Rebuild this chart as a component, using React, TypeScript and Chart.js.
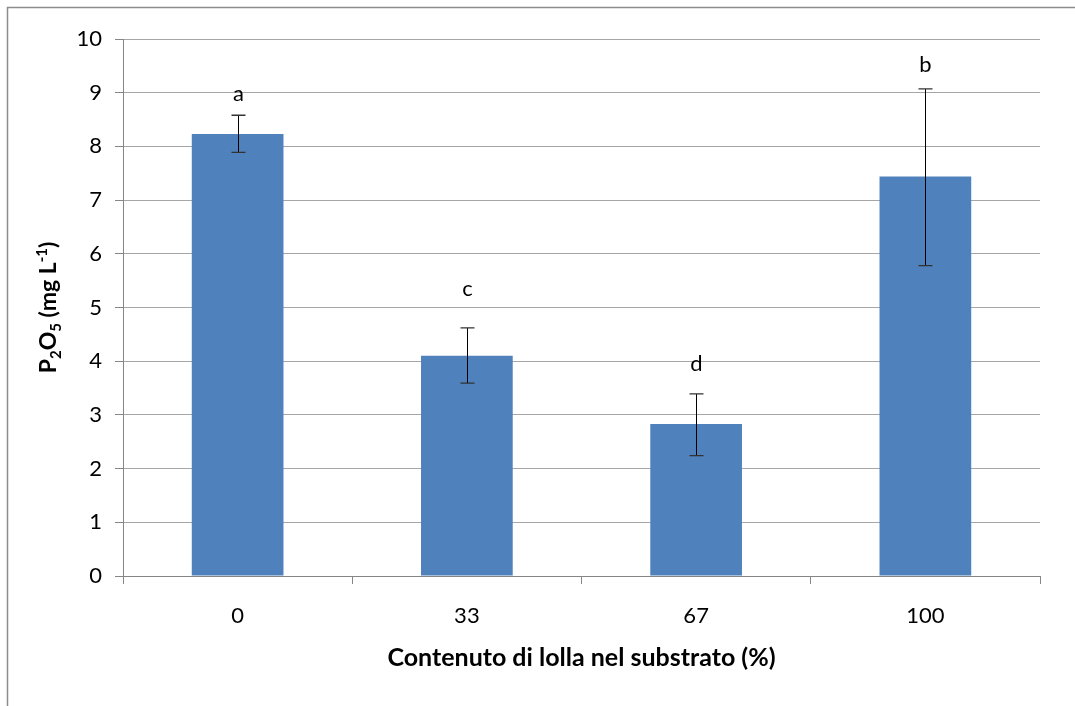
import React, { useEffect, useRef } from "react";
import { Chart, registerables } from "chart.js";

Chart.register(...registerables);

// Rice-hull content of the substrate (%) and available P2O5 (mg/L)
const categories = ["0", "33", "67", "100"];
const meanValues = [8.23, 4.1, 2.83, 7.44];
const errorLow = [7.89, 3.59, 2.24, 5.78];
const errorHigh = [8.58, 4.62, 3.39, 9.07];
// Significance letters and the value at which each letter's baseline sits
const groupLetters = ["a", "c", "d", "b"];
const letterBaseline = [8.85, 5.21, 3.82, 9.39];
const yTicks = [0, 1, 2, 3, 4, 5, 6, 7, 8, 9, 10];

const FONT = "Lato, 'Open Sans', sans-serif";
const BAR_COLOR = "#4F81BD";
const GRID_COLOR = "#A6A6A6";
const AXIS_COLOR = "#868686";

const framePlugin = {
  id: "frame",
  beforeDraw(chart: any) {
    const { ctx } = chart;
    ctx.save();
    ctx.fillStyle = "#ffffff";
    ctx.fillRect(0, 0, chart.width, chart.height);
    ctx.strokeStyle = "#8C8C8C";
    ctx.lineWidth = 1.5;
    ctx.beginPath();
    ctx.moveTo(7.5, chart.height);
    ctx.lineTo(7.5, 7.5);
    ctx.lineTo(chart.width, 7.5);
    ctx.stroke();
    ctx.restore();
  },
};

const errorBarPlugin = {
  id: "errorBars",
  afterDatasetsDraw(chart: any) {
    const { ctx } = chart;
    const x = chart.scales.x;
    const y = chart.scales.y;
    ctx.save();
    categories.forEach((_, i) => {
      const cx = Math.round(x.getPixelForValue(i)) + 0.5;
      const yTop = y.getPixelForValue(errorHigh[i]);
      const yBot = y.getPixelForValue(errorLow[i]);
      ctx.strokeStyle = "#000000";
      ctx.lineWidth = 1;
      ctx.beginPath();
      ctx.moveTo(cx, yTop);
      ctx.lineTo(cx, yBot);
      ctx.stroke();
      ctx.strokeStyle = "#333333";
      ctx.lineWidth = 1.3;
      ctx.beginPath();
      ctx.moveTo(cx - 7, yTop);
      ctx.lineTo(cx + 7, yTop);
      ctx.moveTo(cx - 7, yBot);
      ctx.lineTo(cx + 7, yBot);
      ctx.stroke();

      ctx.fillStyle = "#000000";
      ctx.font = `22px ${FONT}`;
      ctx.textAlign = "center";
      ctx.textBaseline = "alphabetic";
      ctx.fillText(groupLetters[i], cx, y.getPixelForValue(letterBaseline[i]));
    });
    ctx.restore();
  },
};

// Rotated y-axis title with sub/superscripts: P2O5 (mg L-1)
const yTitlePlugin = {
  id: "yTitle",
  afterDraw(chart: any) {
    const { ctx, chartArea } = chart;
    const parts: { t: string; size: number; dy: number }[] = [
      { t: "P", size: 23, dy: 0 },
      { t: "2", size: 15, dy: 5 },
      { t: "O", size: 23, dy: 0 },
      { t: "5", size: 15, dy: 5 },
      { t: " (mg L", size: 23, dy: 0 },
      { t: "-1", size: 15, dy: -9 },
      { t: ")", size: 23, dy: 0 },
    ];
    ctx.save();
    let total = 0;
    const widths = parts.map((p) => {
      ctx.font = `bold ${p.size}px ${FONT}`;
      const w = ctx.measureText(p.t).width;
      total += w;
      return w;
    });
    const cy = (chartArea.top + chartArea.bottom) / 2;
    ctx.translate(56, cy);
    ctx.rotate(-Math.PI / 2);
    ctx.fillStyle = "#000000";
    ctx.textAlign = "left";
    ctx.textBaseline = "alphabetic";
    let px = -total / 2;
    parts.forEach((p, i) => {
      ctx.font = `bold ${p.size}px ${FONT}`;
      ctx.fillText(p.t, px, p.dy);
      px += widths[i];
    });
    ctx.restore();
  },
};

export default function App() {
  const canvasRef = useRef<HTMLCanvasElement | null>(null);

  useEffect(() => {
    document.body.style.margin = "0";
    const canvas = canvasRef.current;
    if (!canvas) return;
    const chart = new Chart(canvas, {
      type: "bar",
      data: {
        labels: categories,
        datasets: [
          {
            data: meanValues,
            backgroundColor: BAR_COLOR,
            borderWidth: 0,
            categoryPercentage: 1,
            barPercentage: 0.4,
          },
        ],
      },
      options: {
        animation: false,
        responsive: false,
        devicePixelRatio: 1,
        layout: { padding: { left: 0, top: 39, right: 35, bottom: 0 } },
        plugins: {
          legend: { display: false },
          tooltip: { enabled: false },
        },
        scales: {
          x: {
            grid: {
              offset: true,
              drawOnChartArea: false,
              drawTicks: true,
              tickLength: 8,
              color: AXIS_COLOR,
            },
            border: { color: AXIS_COLOR, width: 1 },
            ticks: {
              color: "#000000",
              font: { family: FONT, size: 22 },
              padding: 19,
              maxRotation: 0,
            },
            title: {
              display: true,
              text: "Contenuto di lolla nel substrato (%)",
              color: "#000000",
              font: { family: FONT, size: 25, weight: "bold" },
              padding: { top: 0, bottom: 33 },
            },
            afterFit(scale: any) {
              scale.height = 130;
            },
          },
          y: {
            min: 0,
            max: 10,
            afterBuildTicks(scale: any) {
              scale.ticks = yTicks.map((v) => ({ value: v }));
            },
            grid: {
              color: GRID_COLOR,
              drawTicks: true,
              tickLength: 8,
              tickColor: AXIS_COLOR,
            },
            border: { color: AXIS_COLOR, width: 1 },
            ticks: {
              color: "#000000",
              font: { family: FONT, size: 22 },
              padding: 13,
            },
            afterFit(scale: any) {
              scale.width = 123;
            },
          },
        },
      },
      plugins: [framePlugin, errorBarPlugin, yTitlePlugin],
    });
    return () => chart.destroy();
  }, []);

  return (
    <canvas
      ref={canvasRef}
      width={1075}
      height={706}
      style={{ display: "block", width: 1075, height: 706 }}
    />
  );
}
